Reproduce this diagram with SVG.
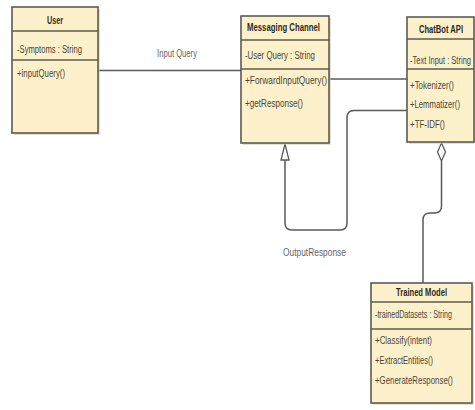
<svg xmlns="http://www.w3.org/2000/svg" width="475" height="410" viewBox="0 0 475 410">
  <style>
    .box { fill: #fdf1cc; stroke: #5e5b4e; stroke-width: 1.6; }
    .shadow { fill: #c9c6bc; opacity: 0.55; }
    .div { stroke: #5e5b4e; stroke-width: 1.4; }
    .t { font-family: "Liberation Sans", Arial, sans-serif; font-size: 10px; fill: #4a4636; }
    .title { font-weight: bold; fill: #2e2b22; }
    .lbl { font-family: "Liberation Sans", Arial, sans-serif; font-size: 10px; fill: #666; }
    .conn { fill: none; stroke: #5a5a5a; stroke-width: 1.5; }
    .head { fill: #ffffff; stroke: #5a5a5a; stroke-width: 1.3; }
  </style>

  <rect width="475" height="410" fill="#ffffff"/>

  <!-- connectors -->
  <g id="connectors">
    <!-- User to Messaging Channel -->
    <path class="conn" d="M98,70.5 H241"/>
    <text class="lbl" x="157" y="57" textLength="40" lengthAdjust="spacingAndGlyphs">Input Query</text>
    <!-- Messaging Channel to ChatBot API -->
    <path class="conn" d="M329,79 H407"/>
    <!-- ChatBot API back to Messaging Channel -->
    <path class="conn" d="M407,110.5 H354 Q347,110.5 347,117.5 V223 Q347,230 340,230 H292 Q285,230 285,223 V160"/>
    <path class="head" d="M285,144 L289,160 L281,160 Z"/>
    <text class="lbl" x="283" y="256" textLength="63" lengthAdjust="spacingAndGlyphs">OutputResponse</text>
    <!-- ChatBot API aggregates Trained Model -->
    <path class="conn" d="M441.5,161 V206 Q441.5,213 434.5,213 H430 Q423,213 423,220 V283"/>
    <path class="head" d="M441.5,143 L445.5,152 L441.5,161 L437.5,152 Z"/>
  </g>

  <!-- User -->
  <g id="user">
    <rect class="shadow" x="14" y="9" width="86" height="126"/>
    <rect class="box" x="12" y="7" width="86" height="126"/>
    <line class="div" x1="12" y1="31" x2="98" y2="31"/>
    <line class="div" x1="12" y1="60" x2="98" y2="60"/>
    <text class="t title" x="47" y="24" textLength="16" lengthAdjust="spacingAndGlyphs">User</text>
    <text class="t" x="17" y="53" textLength="65" lengthAdjust="spacingAndGlyphs">-Symptoms : String</text>
    <text class="t" x="17" y="77" textLength="48" lengthAdjust="spacingAndGlyphs">+inputQuery()</text>
  </g>

  <!-- Messaging Channel -->
  <g id="messaging-channel">
    <rect class="shadow" x="243" y="18" width="88" height="127"/>
    <rect class="box" x="241" y="16" width="88" height="127"/>
    <line class="div" x1="241" y1="40" x2="329" y2="40"/>
    <line class="div" x1="241" y1="69" x2="329" y2="69"/>
    <text class="t title" x="247" y="31" textLength="73" lengthAdjust="spacingAndGlyphs">Messaging Channel</text>
    <text class="t" x="245" y="59" textLength="70" lengthAdjust="spacingAndGlyphs">-User Query : String</text>
    <text class="t" x="245" y="84" textLength="82" lengthAdjust="spacingAndGlyphs">+ForwardInputQuery()</text>
    <text class="t" x="245" y="107" textLength="58" lengthAdjust="spacingAndGlyphs">+getResponse()</text>
  </g>

  <!-- ChatBot API -->
  <g id="chatbot-api">
    <rect class="shadow" x="409" y="19" width="66" height="125"/>
    <rect class="box" x="407" y="17" width="67" height="125"/>
    <line class="div" x1="407" y1="39" x2="474" y2="39"/>
    <line class="div" x1="407" y1="69" x2="474" y2="69"/>
    <text class="t title" x="441" y="33" text-anchor="middle" textLength="44" lengthAdjust="spacingAndGlyphs">ChatBot API</text>
    <text class="t" x="471" y="64" text-anchor="end" textLength="61" lengthAdjust="spacingAndGlyphs">-Text Input : String</text>
    <text class="t" x="410" y="89" textLength="44" lengthAdjust="spacingAndGlyphs">+Tokenizer()</text>
    <text class="t" x="410" y="108" textLength="50" lengthAdjust="spacingAndGlyphs">+Lemmatizer()</text>
    <text class="t" x="410" y="128" textLength="35" lengthAdjust="spacingAndGlyphs">+TF-IDF()</text>
  </g>

  <!-- Trained Model -->
  <g id="trained-model">
    <rect class="shadow" x="373" y="285" width="101" height="120"/>
    <rect class="box" x="371" y="283" width="101" height="120"/>
    <line class="div" x1="371" y1="302" x2="472" y2="302"/>
    <line class="div" x1="371" y1="329" x2="472" y2="329"/>
    <text class="t title" x="421.5" y="296" text-anchor="middle" textLength="51" lengthAdjust="spacingAndGlyphs">Trained Model</text>
    <text class="t" x="452" y="318" text-anchor="end" textLength="77" lengthAdjust="spacingAndGlyphs">-trainedDatasets : String</text>
    <text class="t" x="375" y="344" textLength="57" lengthAdjust="spacingAndGlyphs">+Classify(intent)</text>
    <text class="t" x="375" y="364" textLength="58" lengthAdjust="spacingAndGlyphs">+ExtractEntities()</text>
    <text class="t" x="375" y="384" textLength="78" lengthAdjust="spacingAndGlyphs">+GenerateResponse()</text>
  </g>
</svg>
